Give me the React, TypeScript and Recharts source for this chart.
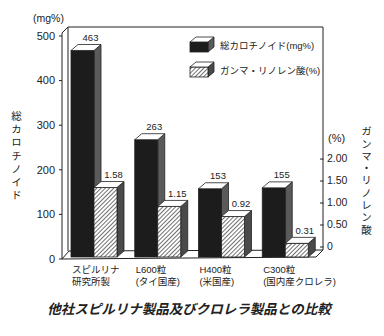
import { ComposedChart, Bar, XAxis, YAxis, LabelList } from "recharts";

const labelLine1 = ["スピルリナ", "L600粒", "H400粒", "C300粒"];
const labelLine2 = ["研究所製", "(タイ国産)", "(米国産)", "(国内産クロレラ)"];
const carotenoid = [463, 263, 153, 155];
const gammaLinolenic = [1.58, 1.15, 0.92, 0.31];
const leftTicks = [0, 100, 200, 300, 400, 500];
const rightTicks = [0, 0.5, 1, 1.5, 2];
const seriesNames = ["総カロチノイド(mg%)", "ガンマ・リノレン酸(%)"];

const data = labelLine1.map((name, i) => ({
  name,
  sub: labelLine2[i],
  carot: carotenoid[i],
  gla: gammaLinolenic[i],
}));

const FONT = "'Liberation Sans', 'Noto Sans CJK JP', sans-serif";
const INK = "#222";
const DX = 7;
const DY = 6;

// 3D box: front face, top face and right side face
const makeBox = (front: string, side: string) => (props: any) => {
  const { x, y, width, height } = props;
  if (height == null || height <= 0) return <g />;
  const Y = y - 2;
  return (
    <g stroke={INK} strokeWidth={0.8}>
      <polygon
        points={`${x + width},${Y} ${x + width + DX},${Y - DY} ${x + width + DX},${Y + height - DY} ${x + width},${Y + height}`}
        fill={side}
      />
      <rect x={x} y={Y} width={width} height={height} fill={front} />
      <polygon
        points={`${x},${Y} ${x + DX},${Y - DY} ${x + width + DX},${Y - DY} ${x + width},${Y}`}
        fill="#fff"
      />
    </g>
  );
};

const DarkBox = makeBox("#1c1c1c", "#5a5a5a");
const HatchBox = makeBox("url(#hatch)", "#4a4a4a");

const valueLabel = (digits: number) => (props: any) => {
  const { x, y, width, value } = props;
  return (
    <text
      x={x + width / 2 + 8}
      y={y - 14}
      textAnchor="middle"
      dominantBaseline="middle"
      fontSize={9.5}
      fontFamily={FONT}
      fill={INK}
    >
      {digits ? Number(value).toFixed(digits) : value}
    </text>
  );
};

const CategoryTick = (props: any) => {
  const { x, y, payload, index } = props;
  return (
    <g fontFamily={FONT} fontSize={9.5} fill={INK}>
      <text x={x - 22} y={y + 6} textAnchor="start" fill={INK}>
        {payload.value}
      </text>
      <text x={x - 22} y={y + 18} textAnchor="start" fill={INK}>
        {labelLine2[index]}
      </text>
    </g>
  );
};

const RightTick = (props: any) => {
  const { x, y, payload } = props;
  const yy = y - 12;
  return (
    <g>
      <line x1={x + 3} y1={yy} x2={x + 6.5} y2={yy} stroke={INK} />
      <text
        x={x + 10}
        y={yy}
        dominantBaseline="middle"
        fontSize={10.5}
        fontFamily={FONT}
        fill={INK}
      >
        {payload.value === 0 ? "0" : payload.value.toFixed(2)}
      </text>
    </g>
  );
};

const LegendBox = ({ hatch }: { hatch: boolean }) => (
  <svg width={28} height={17}>
    <defs>
      <pattern id="hatchL" width="3" height="3" patternUnits="userSpaceOnUse" patternTransform="rotate(45)">
        <rect width="3" height="3" fill="#fff" />
        <line x1="0" y1="0" x2="0" y2="3" stroke="#333" strokeWidth="1.4" />
      </pattern>
    </defs>
    <g stroke={INK} strokeWidth={0.8}>
      <polygon points="19,6 25,1 25,11 19,16" fill={hatch ? "#4a4a4a" : "#5a5a5a"} />
      <rect x={1} y={6} width={18} height={10} fill={hatch ? "url(#hatchL)" : "#1c1c1c"} />
      <polygon points="1,6 7,1 25,1 19,6" fill="#fff" />
    </g>
  </svg>
);

const abs = (s: any) => ({ position: "absolute" as const, fontFamily: FONT, color: INK, ...s });

export default function App() {
  return (
    <div style={{ position: "relative", width: 384, height: 336, background: "#fff" }}>
      <style>{`body{margin:0}`}</style>
      {/* back plane and floor */}
      <svg width={384} height={336} style={{ position: "absolute", left: 0, top: 0 }}>
        <g stroke={INK} strokeWidth={1} fill="none">
          <line x1={68} y1={27} x2={323} y2={27} />
          <line x1={323} y1={27} x2={323} y2={250} />
          <line x1={68} y1={27} x2={68} y2={251} />
          <line x1={62} y1={33} x2={68} y2={27} />
          <polygon points="62,259 69,251 323,250 316,257" fill="#fff" />
        </g>
      </svg>
      <div style={{ position: "absolute", left: 0, top: 0 }}>
        <ComposedChart
          width={384}
          height={336}
          data={data}
          margin={{ top: 33, right: 0, bottom: 37, left: 0 }}
          barGap={0}
        >
          <defs>
            <pattern id="hatch" width="3" height="3" patternUnits="userSpaceOnUse" patternTransform="rotate(45)">
              <rect width="3" height="3" fill="#fff" />
              <line x1="0" y1="0" x2="0" y2="3" stroke="#333" strokeWidth="1.4" />
            </pattern>
          </defs>
          <XAxis dataKey="name" axisLine={false} tickLine={false} height={40} tick={<CategoryTick />} interval={0} />
          <YAxis
            yAxisId="l"
            width={62}
            domain={[0, 506.7]}
            ticks={leftTicks}
            interval={0}
            tickSize={3}
            tickMargin={4}
            stroke={INK}
            tick={{ fontSize: 11, fontFamily: FONT, fill: INK }}
          />
          <YAxis
            yAxisId="r"
            orientation="right"
            width={67}
            domain={[0, 5.14]}
            ticks={rightTicks}
            interval={0}
            axisLine={false}
            tickLine={false}
            tickSize={0}
            tickMargin={0}
            tick={<RightTick />}
          />
          <Bar yAxisId="l" dataKey="carot" barSize={23} shape={DarkBox} isAnimationActive={false}>
            <LabelList dataKey="carot" content={valueLabel(0)} />
          </Bar>
          <Bar yAxisId="r" dataKey="gla" barSize={23} shape={HatchBox} isAnimationActive={false}>
            <LabelList dataKey="gla" content={valueLabel(2)} />
          </Bar>
        </ComposedChart>
      </div>
      {/* legend */}
      <div style={abs({ left: 189, top: 32, fontSize: 9.5 })}>
        {seriesNames.map((s, i) => (
          <div key={s} style={{ display: "flex", alignItems: "center", height: 25 }}>
            <LegendBox hatch={i === 1} />
            <span style={{ marginLeft: 3 }}>{s}</span>
          </div>
        ))}
      </div>
      <div style={abs({ left: 33, top: 12, fontSize: 10.5 })}>(mg%)</div>
      <div style={abs({ left: 328, top: 132, fontSize: 11 })}>(%)</div>
      <div
        style={abs({
          left: 9,
          top: 111,
          fontSize: 10.5,
          writingMode: "vertical-rl",
          textOrientation: "upright",
          letterSpacing: 2.6,
        })}
      >
        総カロチノイド
      </div>
      <div
        style={abs({
          left: 359,
          top: 126,
          fontSize: 10.5,
          writingMode: "vertical-rl",
          textOrientation: "upright",
          letterSpacing: 1.8,
        })}
      >
        ガンマ・リノレン酸
      </div>
      <div
        style={abs({
          left: 0,
          width: 378,
          top: 298,
          textAlign: "center",
          fontSize: 13.5,
          fontWeight: 700,
          fontStyle: "italic",
        })}
      >
        他社スピルリナ製品及びクロレラ製品との比較
      </div>
    </div>
  );
}
